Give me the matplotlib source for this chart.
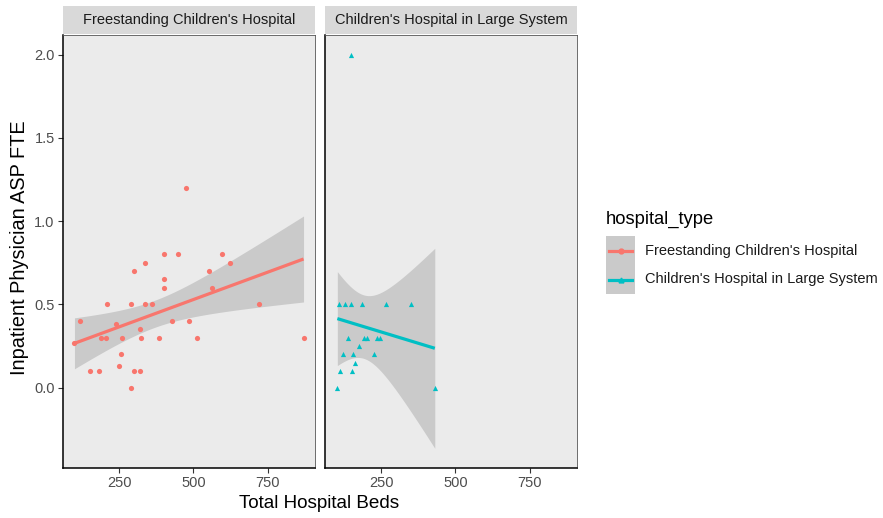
import matplotlib
matplotlib.use("Agg")
import matplotlib.pyplot as plt
import numpy as np
from matplotlib.lines import Line2D
from matplotlib.patches import Rectangle

plt.rcParams["font.family"] = ["Liberation Sans", "DejaVu Sans"]

# -- Data ----------------------------------------------------------------------
facets = ["Freestanding Children's Hospital", "Children's Hospital in Large System"]
colors = ["#F8766D", "#00BFC4"]
markers = ["o", "^"]

free_beds = [100, 117, 152, 183, 189, 205, 211, 240, 251, 256, 260, 289, 289,
             300, 300, 319, 321, 324, 336, 336, 360, 386, 401, 401, 403, 429,
             450, 475, 484, 511, 552, 562, 595, 623, 721, 871]
free_fte = [0.27, 0.40, 0.10, 0.10, 0.30, 0.30, 0.50, 0.38, 0.13, 0.20, 0.30,
            0.50, 0.00, 0.70, 0.10, 0.10, 0.35, 0.30, 0.75, 0.50, 0.50, 0.30,
            0.65, 0.60, 0.80, 0.40, 0.80, 1.20, 0.40, 0.30, 0.70, 0.60, 0.80,
            0.75, 0.50, 0.30]

sys_beds = [107, 130, 150, 186, 268, 352, 139, 194, 204, 237, 248, 176, 123,
            156, 227, 162, 112, 153, 103, 431, 148]
sys_fte = [0.50, 0.50, 0.50, 0.50, 0.50, 0.50, 0.30, 0.30, 0.30, 0.30, 0.30,
           0.25, 0.20, 0.20, 0.20, 0.15, 0.10, 0.10, 0.00, 0.00, 2.00]

x_ticks = [250, 500, 750]
y_ticks = [0.0, 0.5, 1.0, 1.5, 2.0]


def t95(df):
    # Cornish-Fisher approximation of the 97.5% t quantile
    z = 1.959964
    return (z + (z**3 + z) / (4 * df)
            + (5 * z**5 + 16 * z**3 + 3 * z) / (96 * df**2)
            + (3 * z**7 + 19 * z**5 + 17 * z**3 - 15 * z) / (384 * df**3))


def lm_band(x, y, n=80):
    """Linear fit with 95% confidence band, like geom_smooth(method='lm')."""
    x = np.asarray(x, float)
    y = np.asarray(y, float)
    X = np.column_stack([np.ones_like(x), x])
    beta = np.linalg.lstsq(X, y, rcond=None)[0]
    resid = y - X @ beta
    df = len(x) - 2
    s2 = resid @ resid / df
    xm = x.mean()
    sxx = ((x - xm) ** 2).sum()
    xs = np.linspace(x.min(), x.max(), n)
    yhat = beta[0] + beta[1] * xs
    se = np.sqrt(s2 * (1 / len(x) + (xs - xm) ** 2 / sxx))
    t = t95(df)
    return xs, yhat, yhat - t * se, yhat + t * se


groups = [(free_beds, free_fte), (sys_beds, sys_fte)]
fits = [lm_band(x, y) for x, y in groups]

# shared limits with ggplot-style 5% expansion
all_x = np.concatenate([np.asarray(g[0], float) for g in groups])
lo_y = min(min(f[2].min() for f in fits), min(min(g[1]) for g in groups))
hi_y = max(max(f[3].max() for f in fits), max(max(g[1]) for g in groups))
rx = all_x.max() - all_x.min()
ry = hi_y - lo_y
xlim = (all_x.min() - 0.05 * rx, all_x.max() + 0.05 * rx)
ylim = (lo_y - 0.05 * ry, hi_y + 0.05 * ry)

# -- Figure --------------------------------------------------------------------
W, H = 883, 518
fig = plt.figure(figsize=(W / 100, H / 100), dpi=100)
fig.patch.set_facecolor("white")


def px_box(x0, y0, x1, y1):
    return [x0 / W, 1 - y1 / H, (x1 - x0) / W, (y1 - y0) / H]


panels = [(63, 315), (325, 577)]
for i, ((x0, x1), (bx, by), fit) in enumerate(zip(panels, groups, fits)):
    ax = fig.add_axes(px_box(x0, 35, x1, 468))
    ax.set_facecolor("#EBEBEB")
    xs, yhat, lo, hi = fit
    ax.fill_between(xs, lo, hi, color="#999999", alpha=0.4, lw=0, zorder=2)
    ax.scatter(bx, by, s=14, marker=markers[i], color=colors[i], lw=0, zorder=3)
    ax.plot(xs, yhat, color=colors[i], lw=2.3, zorder=4, solid_capstyle="butt")
    ax.set_xlim(xlim)
    ax.set_ylim(ylim)
    ax.set_xticks(x_ticks)
    ax.set_yticks(y_ticks)
    ax.set_yticklabels([f"{v:.1f}" for v in y_ticks])
    ax.tick_params(length=3.5, width=0.8, color="#333333", labelcolor="#4D4D4D",
                   labelsize=10.5, pad=2.5)
    if i > 0:
        ax.tick_params(axis="y", left=False, labelleft=False)
    for side in ("left", "bottom"):
        ax.spines[side].set_color("black")
        ax.spines[side].set_linewidth(1.1)
    for side in ("top", "right"):
        ax.spines[side].set_color("#555555")
        ax.spines[side].set_linewidth(0.6)

    # facet strip
    sax = fig.add_axes(px_box(x0, 6, x1, 34))
    sax.set_facecolor("#D9D9D9")
    sax.set_xticks([])
    sax.set_yticks([])
    for sp in sax.spines.values():
        sp.set_visible(False)
    sax.text(0.5, 0.5, facets[i], ha="center", va="center", fontsize=10.5,
             color="#1A1A1A", transform=sax.transAxes)

fig.text(319 / W, 1 - 503 / H, "Total Hospital Beds", ha="center", va="center",
         fontsize=13.6)
fig.text(20 / W, 1 - 248 / H, "Inpatient Physician ASP FTE", ha="center",
         va="center", rotation=90, fontsize=14.3)

# -- Legend --------------------------------------------------------------------
fig.text(606 / W, 1 - 219 / H, "hospital_type", ha="left", va="center",
         fontsize=13.2)
for i, name in enumerate(facets):
    ytop = 236 + i * 29
    fig.add_artist(Rectangle((606 / W, 1 - (ytop + 29) / H), 29 / W, 29 / H,
                             transform=fig.transFigure, facecolor="#CACACA",
                             edgecolor="none"))
    yc = 1 - (ytop + 14.5) / H
    fig.add_artist(Line2D([609 / W, 632 / W], [yc, yc], color=colors[i], lw=2.3,
                          transform=fig.transFigure))
    fig.add_artist(Line2D([620.5 / W], [yc], marker=markers[i], ms=3.5,
                          color=colors[i], lw=0, transform=fig.transFigure))
    fig.text(645 / W, yc, name, ha="left", va="center", fontsize=10.5,
             color="#1A1A1A")

fig.savefig("out.png", dpi=100)
